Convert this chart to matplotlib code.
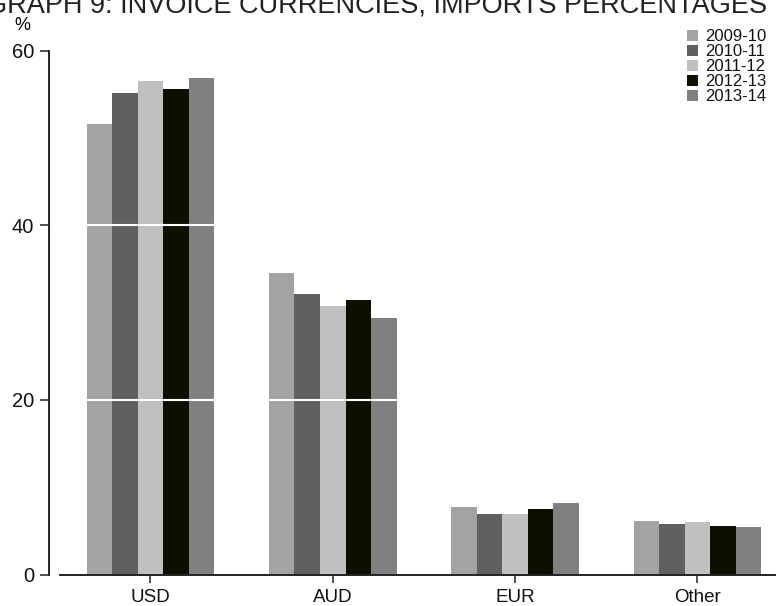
import matplotlib
matplotlib.use("Agg")
import matplotlib.pyplot as plt
import numpy as np

# Invoice currency shares of imports, by financial year (%)
currencies = ["USD", "AUD", "EUR", "Other"]
years = ["2009-10", "2010-11", "2011-12", "2012-13", "2013-14"]
share_2009_10 = [51.6, 34.5, 7.7, 6.2]
share_2010_11 = [55.1, 32.1, 7.0, 5.8]
share_2011_12 = [56.5, 30.7, 6.9, 6.0]
share_2012_13 = [55.6, 31.4, 7.5, 5.6]
share_2013_14 = [56.9, 29.4, 8.2, 5.5]
series = [share_2009_10, share_2010_11, share_2011_12, share_2012_13, share_2013_14]
colors = ["#a3a3a3", "#606060", "#c0c0c0", "#0f0f00", "#808080"]
y_ticks = [0, 20, 40, 60]

plt.rcParams["font.family"] = ["Liberation Sans", "DejaVu Sans"]

W, H = 776, 606
fig = plt.figure(figsize=(W / 100, H / 100), dpi=100)
left, right = 60 / W, 1.0
bottom, top = (H - 574.7) / H, (H - 50.5) / H
ax = fig.add_axes([left, bottom, right - left, top - bottom])

x = np.arange(len(currencies))
width = 0.14
for i, (vals, col, lab) in enumerate(zip(series, colors, years)):
    ax.bar(x + (i - 2) * width, vals, width=width, color=col, label=lab,
           zorder=2, linewidth=0)

# white reference lines cut across the bars
for yv in (20, 40):
    ax.axhline(yv, color="white", linewidth=1.5, zorder=3)

for s in ("top", "right"):
    ax.spines[s].set_visible(False)
ax.spines["left"].set_position(("outward", 8))
for s in ("left", "bottom"):
    ax.spines[s].set_linewidth(1.4)
    ax.spines[s].set_color("#222222")

ax.set_xlim(-0.496, 3.431)
ax.set_ylim(0, 60)
ax.set_xticks(x)
ax.set_xticklabels(currencies)
ax.set_yticks(y_ticks)
ax.set_yticklabels([str(v) for v in y_ticks])
ax.tick_params(axis="y", length=6.5, width=1.1, color="#222222", pad=4,
               labelsize=14.5, labelcolor="#111111")
ax.tick_params(axis="x", length=6, width=1.1, color="#222222", pad=4,
               labelsize=13.5, labelcolor="#111111")

fig.text(14 / W, 1 - 25 / H, "%", fontsize=13, va="center", ha="left")
fig.text(-14 / W, 1 - 12 / H, "GRAPH 9: INVOICE CURRENCIES, IMPORTS PERCENTAGES",
         fontsize=19.5, va="baseline", ha="left", color="#222222")

leg = ax.legend(loc="upper right", bbox_to_anchor=(1.0, 1.06), frameon=False,
                fontsize=12, handlelength=0.65, handleheight=0.65,
                handletextpad=0.4, labelspacing=0.0, borderaxespad=0.2)
for t in leg.get_texts():
    t.set_color("#111111")

fig.savefig("out.png", dpi=100)
